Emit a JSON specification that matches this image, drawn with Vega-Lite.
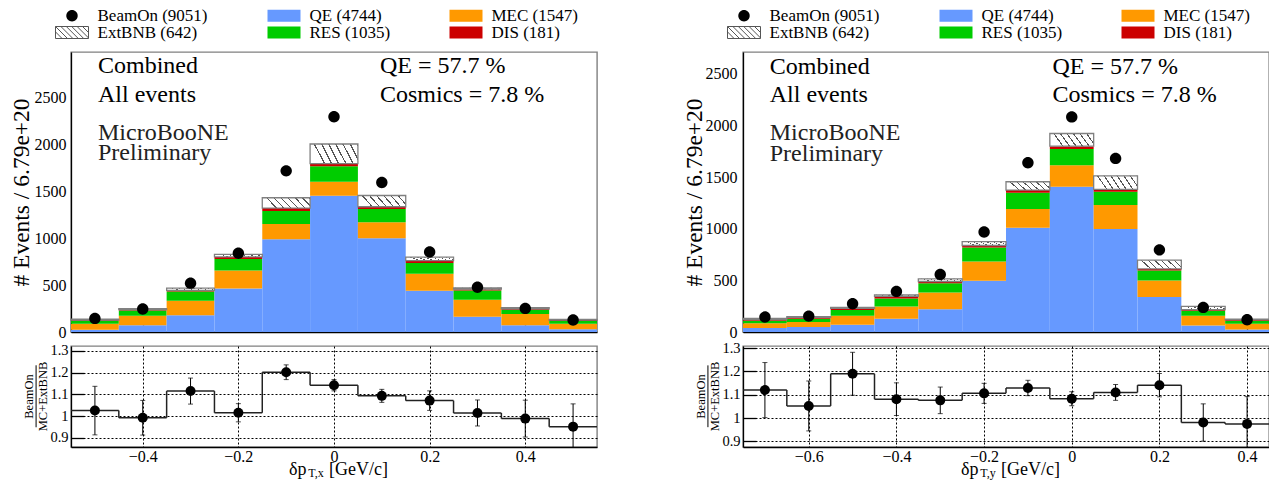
{
  "$schema": "https://vega.github.io/schema/vega-lite/v6.json",
  "padding": {"left": 8, "top": 7, "right": 3, "bottom": 4},
  "background": "white",
  "datasets": {
    "dx": [
      {"lo": -0.55, "hi": -0.45, "c": -0.5, "QE": 25, "MEC": 63, "RES": 32, "DIS": 7, "ExtBNB": 11, "BeamOn": 145, "r": 1.025, "e": 0.112},
      {"lo": -0.45, "hi": -0.35, "c": -0.4, "QE": 71, "MEC": 102, "RES": 55, "DIS": 10, "ExtBNB": 10, "BeamOn": 244, "r": 0.992, "e": 0.08},
      {"lo": -0.35, "hi": -0.25, "c": -0.3, "QE": 177, "MEC": 155, "RES": 99, "DIS": 12, "ExtBNB": 24, "BeamOn": 520, "r": 1.115, "e": 0.06},
      {"lo": -0.25, "hi": -0.15, "c": -0.2, "QE": 463, "MEC": 191, "RES": 124, "DIS": 21, "ExtBNB": 28, "BeamOn": 838, "r": 1.015, "e": 0.042},
      {"lo": -0.15, "hi": -0.05, "c": -0.1, "QE": 987, "MEC": 162, "RES": 138, "DIS": 32, "ExtBNB": 110, "BeamOn": 1715, "r": 1.202, "e": 0.034},
      {"lo": -0.05, "hi": 0.05, "c": 0.0, "QE": 1450, "MEC": 148, "RES": 166, "DIS": 29, "ExtBNB": 208, "BeamOn": 2291, "r": 1.142, "e": 0.026},
      {"lo": 0.05, "hi": 0.15, "c": 0.1, "QE": 997, "MEC": 170, "RES": 141, "DIS": 25, "ExtBNB": 120, "BeamOn": 1591, "r": 1.093, "e": 0.03},
      {"lo": 0.15, "hi": 0.25, "c": 0.2, "QE": 438, "MEC": 181, "RES": 116, "DIS": 25, "ExtBNB": 36, "BeamOn": 852, "r": 1.071, "e": 0.045},
      {"lo": 0.25, "hi": 0.35, "c": 0.3, "QE": 163, "MEC": 180, "RES": 99, "DIS": 14, "ExtBNB": 14, "BeamOn": 477, "r": 1.014, "e": 0.06},
      {"lo": 0.35, "hi": 0.45, "c": 0.4, "QE": 71, "MEC": 120, "RES": 46, "DIS": 10, "ExtBNB": 11, "BeamOn": 251, "r": 0.988, "e": 0.085},
      {"lo": 0.45, "hi": 0.55, "c": 0.5, "QE": 28, "MEC": 60, "RES": 29, "DIS": 10, "ExtBNB": 7, "BeamOn": 127, "r": 0.951, "e": 0.105}
    ],
    "dy": [
      {"lo": -0.75, "hi": -0.65, "c": -0.7, "QE": 39, "MEC": 45, "RES": 25, "DIS": 10, "ExtBNB": 13, "BeamOn": 145, "r": 1.12, "e": 0.118},
      {"lo": -0.65, "hi": -0.55, "c": -0.6, "QE": 48, "MEC": 49, "RES": 32, "DIS": 13, "ExtBNB": 6, "BeamOn": 154, "r": 1.052, "e": 0.107},
      {"lo": -0.55, "hi": -0.45, "c": -0.5, "QE": 71, "MEC": 87, "RES": 54, "DIS": 16, "ExtBNB": 10, "BeamOn": 273, "r": 1.19, "e": 0.092},
      {"lo": -0.45, "hi": -0.35, "c": -0.4, "QE": 129, "MEC": 119, "RES": 77, "DIS": 19, "ExtBNB": 16, "BeamOn": 393, "r": 1.081, "e": 0.07},
      {"lo": -0.35, "hi": -0.25, "c": -0.3, "QE": 219, "MEC": 164, "RES": 90, "DIS": 16, "ExtBNB": 26, "BeamOn": 557, "r": 1.076, "e": 0.057},
      {"lo": -0.25, "hi": -0.15, "c": -0.2, "QE": 495, "MEC": 187, "RES": 135, "DIS": 20, "ExtBNB": 38, "BeamOn": 968, "r": 1.106, "e": 0.043},
      {"lo": -0.15, "hi": -0.05, "c": -0.1, "QE": 1010, "MEC": 180, "RES": 158, "DIS": 26, "ExtBNB": 80, "BeamOn": 1638, "r": 1.129, "e": 0.033},
      {"lo": -0.05, "hi": 0.05, "c": 0.0, "QE": 1406, "MEC": 209, "RES": 155, "DIS": 29, "ExtBNB": 122, "BeamOn": 2082, "r": 1.083, "e": 0.03},
      {"lo": 0.05, "hi": 0.15, "c": 0.1, "QE": 997, "MEC": 232, "RES": 129, "DIS": 22, "ExtBNB": 132, "BeamOn": 1680, "r": 1.11, "e": 0.034},
      {"lo": 0.15, "hi": 0.25, "c": 0.2, "QE": 338, "MEC": 161, "RES": 96, "DIS": 16, "ExtBNB": 84, "BeamOn": 795, "r": 1.141, "e": 0.05},
      {"lo": 0.25, "hi": 0.35, "c": 0.3, "QE": 64, "MEC": 94, "RES": 48, "DIS": 10, "ExtBNB": 32, "BeamOn": 238, "r": 0.981, "e": 0.08},
      {"lo": 0.35, "hi": 0.45, "c": 0.4, "QE": 23, "MEC": 57, "RES": 29, "DIS": 10, "ExtBNB": 6, "BeamOn": 119, "r": 0.975, "e": 0.117}
    ]
  },
  "config": {
    "font": "Liberation Serif",
    "view": {"stroke": "#808080", "strokeWidth": 1.4},
    "axis": {"domainColor": "black", "domainWidth": 1.3, "labelColor": "black", "titleColor": "black", "titleFontWeight": "normal", "labelFont": "Liberation Serif", "titleFont": "Liberation Serif", "labelOverlap": false},
    "legend": {"orient": "none", "legendX": -7.5, "legendY": -45, "columns": 3, "gridAlign": "each", "columnPadding": 57, "rowPadding": -1, "labelOffset": 17, "symbolSize": 144, "labelFont": "Liberation Serif", "labelFontSize": 17, "labelColor": "black", "padding": 0},
    "text": {"font": "Liberation Serif", "color": "black"}
  },
  "hconcat": [
    {
      "vconcat": [
        {
          "width": 526, "height": 280,
          "data": {"name": "dx"},
          "layer": [
            {
              "transform": [
                {"fold": ["QE", "MEC", "RES", "DIS", "ExtBNB"], "as": ["comp", "n"]},
                {"stack": "n", "groupby": ["c"], "as": ["y0", "y1"]}
              ],
              "layer": [
                {
                  "transform": [{"filter": "datum.comp != 'ExtBNB'"}],
                  "mark": {"type": "rect"},
                  "encoding": {
                    "x": {"field": "lo", "type": "quantitative", "scale": {"domain": [-0.55, 0.55], "nice": false, "zero": false},
                      "axis": {"values": [-0.4, -0.2, 0, 0.2, 0.4], "tickCount": 20, "labels": false, "ticks": true, "tickSize": -7, "tickColor": "black", "tickWidth": 1.3, "grid": false, "title": null}},
                    "x2": {"field": "hi"},
                    "y": {"field": "y0", "type": "quantitative", "scale": {"domain": [0, 2980], "nice": false, "zero": false},
                      "axis": {"values": [0, 500, 1000, 1500, 2000, 2500], "tickCount": 20, "format": "d", "labelFontSize": 16, "labelPadding": 5, "ticks": false, "grid": false, "labelOverlap": false,
                        "title": "# Events / 6.79e+20", "titleFontSize": 23.5, "titleX": -49.5, "titleY": 140, "titleAngle": -90, "titleBaseline": "middle", "titleAlign": "center"}},
                    "y2": {"field": "y1"},
                    "color": {"field": "comp", "type": "nominal",
                      "scale": {"domain": ["BeamOn", "ExtBNB", "QE", "RES", "MEC", "DIS"], "range": ["black", "white", "#6699ff", "#00cc00", "#ff9900", "#cc0000"]},
                      "legend": {"title": null,
                        "labelExpr": "datum.label == 'BeamOn' ? 'BeamOn (9051)' : datum.label == 'QE' ? 'QE (4744)' : datum.label == 'MEC' ? 'MEC (1547)' : datum.label == 'ExtBNB' ? 'ExtBNB (642)' : datum.label == 'RES' ? 'RES (1035)' : 'DIS (181)'",
                        "encode": {"symbols": {"update": {"stroke": [{"test": "datum.value == 'ExtBNB'", "value": "#555555"}, {"value": "transparent"}], "strokeWidth": {"value": 1}, "opacity": {"value": 1}}}}}}
                  }
                },
                {
                  "transform": [{"filter": "datum.comp == 'ExtBNB'"}],
                  "mark": {"type": "rect", "stroke": "#808080", "strokeWidth": 1.3,
                    "fill": {"gradient": "linear", "x1": 0, "y1": 0.21, "x2": 1, "y2": 0, "stops": [
                      {"offset": 0, "color": "white"}, {"offset": 0.1143, "color": "white"}, {"offset": 0.1143, "color": "#555555"}, {"offset": 0.1429, "color": "#555555"},
                      {"offset": 0.1429, "color": "white"}, {"offset": 0.2571, "color": "white"}, {"offset": 0.2571, "color": "#555555"}, {"offset": 0.2857, "color": "#555555"},
                      {"offset": 0.2857, "color": "white"}, {"offset": 0.4, "color": "white"}, {"offset": 0.4, "color": "#555555"}, {"offset": 0.4286, "color": "#555555"},
                      {"offset": 0.4286, "color": "white"}, {"offset": 0.5429, "color": "white"}, {"offset": 0.5429, "color": "#555555"}, {"offset": 0.5714, "color": "#555555"},
                      {"offset": 0.5714, "color": "white"}, {"offset": 0.6857, "color": "white"}, {"offset": 0.6857, "color": "#555555"}, {"offset": 0.7143, "color": "#555555"},
                      {"offset": 0.7143, "color": "white"}, {"offset": 0.8286, "color": "white"}, {"offset": 0.8286, "color": "#555555"}, {"offset": 0.8571, "color": "#555555"},
                      {"offset": 0.8571, "color": "white"}, {"offset": 0.9714, "color": "white"}, {"offset": 0.9714, "color": "#555555"}, {"offset": 1, "color": "#555555"}]}},
                  "encoding": {
                    "x": {"field": "lo", "type": "quantitative"},
                    "x2": {"field": "hi"},
                    "y": {"field": "y0", "type": "quantitative"},
                    "y2": {"field": "y1"}
                  }
                }
              ]
            },
            {
              "transform": [{"fold": ["BeamOn"], "as": ["comp", "n"]}],
              "mark": {"type": "point", "filled": true, "opacity": 1, "size": 144},
              "encoding": {
                "x": {"field": "c", "type": "quantitative"},
                "y": {"field": "n", "type": "quantitative"},
                "color": {"field": "comp", "type": "nominal",
                  "scale": {"domain": ["BeamOn", "ExtBNB", "QE", "RES", "MEC", "DIS"], "range": ["black", "white", "#6699ff", "#00cc00", "#ff9900", "#cc0000"]},
                  "legend": {"title": null,
                    "labelExpr": "datum.label == 'BeamOn' ? 'BeamOn (9051)' : datum.label == 'QE' ? 'QE (4744)' : datum.label == 'MEC' ? 'MEC (1547)' : datum.label == 'ExtBNB' ? 'ExtBNB (642)' : datum.label == 'RES' ? 'RES (1035)' : 'DIS (181)'",
                    "encode": {"symbols": {"update": {"stroke": [{"test": "datum.value == 'ExtBNB'", "value": "#555555"}, {"value": "transparent"}], "strokeWidth": {"value": 1}, "opacity": {"value": 1}}}}}},
                "shape": {"field": "comp", "type": "nominal",
                  "scale": {"domain": ["BeamOn", "ExtBNB", "QE", "RES", "MEC", "DIS"], "range": [
                    "M-0.95,0A0.95,0.95 0 1,0 0.95,0A0.95,0.95 0 1,0 -0.95,0Z",
                    "M-2.75,-1H2.75V1H-2.75Z M-2.75,-0.1L-1.65,1 M-2.75,-1L-0.75,1 M-1.85,-1L0.15,1 M-0.95,-1L1.05,1 M-0.05,-1L1.95,1 M0.85,-1L2.75,0.9 M1.75,-1L2.75,0",
                    "M-2.75,-1H2.75V1H-2.75Z",
                    "M-2.75,-1H2.75V1H-2.75Z",
                    "M-2.75,-1H2.75V1H-2.75Z",
                    "M-2.75,-1H2.75V1H-2.75Z"]},
                  "legend": {"title": null,
                    "labelExpr": "datum.label == 'BeamOn' ? 'BeamOn (9051)' : datum.label == 'QE' ? 'QE (4744)' : datum.label == 'MEC' ? 'MEC (1547)' : datum.label == 'ExtBNB' ? 'ExtBNB (642)' : datum.label == 'RES' ? 'RES (1035)' : 'DIS (181)'",
                    "encode": {"symbols": {"update": {"stroke": [{"test": "datum.value == 'ExtBNB'", "value": "#555555"}, {"value": "transparent"}], "strokeWidth": {"value": 1}, "opacity": {"value": 1}}}}}}
              }
            },
            {
              "data": {"values": [{}]},
              "mark": {"type": "text", "align": "left", "baseline": "alphabetic", "fontSize": 24, "lineHeight": 28.4},
              "encoding": {"x": {"datum": -0.4935}, "y": {"datum": 2755}, "text": {"value": ["Combined", "All events"]}}
            },
            {
              "data": {"values": [{}]},
              "mark": {"type": "text", "align": "left", "baseline": "alphabetic", "fontSize": 24, "lineHeight": 20.7, "color": "#222222"},
              "encoding": {"x": {"datum": -0.4935}, "y": {"datum": 2046}, "text": {"value": ["MicroBooNE", "Preliminary"]}}
            },
            {
              "data": {"values": [{}]},
              "mark": {"type": "text", "align": "left", "baseline": "alphabetic", "fontSize": 24, "lineHeight": 28.4},
              "encoding": {"x": {"datum": 0.0962}, "y": {"datum": 2755}, "text": {"value": ["QE = 57.7 %", "Cosmics = 7.8 %"]}}
            }
          ]
        },
        {
          "width": 526, "height": 101,
          "data": {"name": "dx"},
          "layer": [
            {
              "mark": {"type": "rule", "color": "#222222", "strokeWidth": 1.5},
              "encoding": {
                "x": {"field": "lo", "type": "quantitative", "scale": {"domain": [-0.55, 0.55], "nice": false, "zero": false},
                  "axis": {"values": [-0.4, -0.2, 0, 0.2, 0.4], "tickCount": 20, "format": "~g", "grid": true, "gridDash": [2, 2], "gridColor": "black", "gridOpacity": 1, "ticks": false, "labelFontSize": 16, "labelPadding": 1, "labelOverlap": false,
                    "title": "δp\u00a0\u00a0\u00a0\u00a0\u00a0[GeV/c]", "titleFontSize": 18, "titleX": 267, "titleY": 27, "titleBaseline": "alphabetic", "titleAlign": "center"}},
                "x2": {"field": "hi"},
                "y": {"field": "r", "type": "quantitative", "scale": {"domain": [0.857, 1.323], "nice": false, "zero": false},
                  "axis": {"values": [0.9, 1, 1.1, 1.2, 1.3], "tickCount": 20, "format": "~g", "grid": true, "gridDash": [2, 2], "gridColor": "black", "gridOpacity": 1, "ticks": true, "tickSize": -13, "tickColor": "black", "tickWidth": 1.3, "labelPadding": 16, "labelFontSize": 14.5, "labelOverlap": false, "labelBound": false, "title": null}}
              }
            },
            {
              "transform": [
                {"window": [{"op": "lag", "field": "r", "as": "rp"}], "sort": [{"field": "lo"}]},
                {"filter": "datum.rp != null"}
              ],
              "mark": {"type": "rule", "color": "#222222", "strokeWidth": 1.5},
              "encoding": {"x": {"field": "lo", "type": "quantitative"}, "y": {"field": "r", "type": "quantitative", "title": null}, "y2": {"field": "rp"}}
            },
            {
              "mark": {"type": "errorbar", "ticks": {"size": 5, "color": "black"}, "color": "black", "clip": true},
              "encoding": {"x": {"field": "c", "type": "quantitative"}, "y": {"field": "r", "type": "quantitative", "title": null}, "yError": {"field": "e"}}
            },
            {
              "mark": {"type": "circle", "color": "black", "size": 100, "opacity": 1},
              "encoding": {"x": {"field": "c", "type": "quantitative"}, "y": {"field": "r", "type": "quantitative", "title": null}}
            },
            {
              "data": {"values": [{}]},
              "mark": {"type": "rule", "color": "black", "strokeWidth": 1},
              "encoding": {"x": {"datum": -0.623}, "y": {"datum": 1.234}, "y2": {"datum": 0.948}}
            },
            {
              "data": {"values": [{}]},
              "mark": {"type": "text", "fontSize": 12.5, "baseline": "middle", "align": "center", "angle": 270},
              "encoding": {"x": {"datum": -0.6378}, "y": {"datum": 1.09}, "text": {"value": "BeamOn"}}
            },
            {
              "data": {"values": [{}]},
              "mark": {"type": "text", "fontSize": 12.5, "baseline": "middle", "align": "center", "angle": 270},
              "encoding": {"x": {"datum": -0.6096}, "y": {"datum": 1.09}, "text": {"value": "MC+ExtBNB"}}
            },
            {
              "data": {"values": [{}]},
              "mark": {"type": "text", "fontSize": 12, "baseline": "alphabetic", "align": "center"},
              "encoding": {"x": {"datum": -0.0377}, "y": {"datum": 0.717}, "text": {"value": "T,x"}}
            }
          ]
        }
      ],
      "spacing": 14,
      "bounds": "flush",
      "resolve": {"scale": {"x": "independent", "y": "independent"}}
    },
    {
      "vconcat": [
        {
          "width": 526, "height": 280,
          "data": {"name": "dy"},
          "layer": [
            {
              "transform": [
                {"fold": ["QE", "MEC", "RES", "DIS", "ExtBNB"], "as": ["comp", "n"]},
                {"stack": "n", "groupby": ["c"], "as": ["y0", "y1"]}
              ],
              "layer": [
                {
                  "transform": [{"filter": "datum.comp != 'ExtBNB'"}],
                  "mark": {"type": "rect"},
                  "encoding": {
                    "x": {"field": "lo", "type": "quantitative", "scale": {"domain": [-0.75, 0.45], "nice": false, "zero": false},
                      "axis": {"values": [-0.6, -0.4, -0.2, 0, 0.2, 0.4], "tickCount": 20, "labels": false, "ticks": true, "tickSize": -7, "tickColor": "black", "tickWidth": 1.3, "grid": false, "title": null}},
                    "x2": {"field": "hi"},
                    "y": {"field": "y0", "type": "quantitative", "scale": {"domain": [0, 2710], "nice": false, "zero": false},
                      "axis": {"values": [0, 500, 1000, 1500, 2000, 2500], "tickCount": 20, "format": "d", "labelFontSize": 16, "labelPadding": 6, "ticks": false, "grid": false, "labelOverlap": false,
                        "title": "# Events / 6.79e+20", "titleFontSize": 23.5, "titleX": -49, "titleY": 140, "titleAngle": -90, "titleBaseline": "middle", "titleAlign": "center"}},
                    "y2": {"field": "y1"},
                    "color": {"field": "comp", "type": "nominal",
                      "scale": {"domain": ["BeamOn", "ExtBNB", "QE", "RES", "MEC", "DIS"], "range": ["black", "white", "#6699ff", "#00cc00", "#ff9900", "#cc0000"]},
                      "legend": {"title": null,
                        "labelExpr": "datum.label == 'BeamOn' ? 'BeamOn (9051)' : datum.label == 'QE' ? 'QE (4744)' : datum.label == 'MEC' ? 'MEC (1547)' : datum.label == 'ExtBNB' ? 'ExtBNB (642)' : datum.label == 'RES' ? 'RES (1035)' : 'DIS (181)'",
                        "encode": {"symbols": {"update": {"stroke": [{"test": "datum.value == 'ExtBNB'", "value": "#555555"}, {"value": "transparent"}], "strokeWidth": {"value": 1}, "opacity": {"value": 1}}}}}}
                  }
                },
                {
                  "transform": [{"filter": "datum.comp == 'ExtBNB'"}],
                  "mark": {"type": "rect", "stroke": "#808080", "strokeWidth": 1.3,
                    "fill": {"gradient": "linear", "x1": 0, "y1": 0.21, "x2": 1, "y2": 0, "stops": [
                      {"offset": 0, "color": "white"}, {"offset": 0.1143, "color": "white"}, {"offset": 0.1143, "color": "#555555"}, {"offset": 0.1429, "color": "#555555"},
                      {"offset": 0.1429, "color": "white"}, {"offset": 0.2571, "color": "white"}, {"offset": 0.2571, "color": "#555555"}, {"offset": 0.2857, "color": "#555555"},
                      {"offset": 0.2857, "color": "white"}, {"offset": 0.4, "color": "white"}, {"offset": 0.4, "color": "#555555"}, {"offset": 0.4286, "color": "#555555"},
                      {"offset": 0.4286, "color": "white"}, {"offset": 0.5429, "color": "white"}, {"offset": 0.5429, "color": "#555555"}, {"offset": 0.5714, "color": "#555555"},
                      {"offset": 0.5714, "color": "white"}, {"offset": 0.6857, "color": "white"}, {"offset": 0.6857, "color": "#555555"}, {"offset": 0.7143, "color": "#555555"},
                      {"offset": 0.7143, "color": "white"}, {"offset": 0.8286, "color": "white"}, {"offset": 0.8286, "color": "#555555"}, {"offset": 0.8571, "color": "#555555"},
                      {"offset": 0.8571, "color": "white"}, {"offset": 0.9714, "color": "white"}, {"offset": 0.9714, "color": "#555555"}, {"offset": 1, "color": "#555555"}]}},
                  "encoding": {
                    "x": {"field": "lo", "type": "quantitative"},
                    "x2": {"field": "hi"},
                    "y": {"field": "y0", "type": "quantitative"},
                    "y2": {"field": "y1"}
                  }
                }
              ]
            },
            {
              "transform": [{"fold": ["BeamOn"], "as": ["comp", "n"]}],
              "mark": {"type": "point", "filled": true, "opacity": 1, "size": 144},
              "encoding": {
                "x": {"field": "c", "type": "quantitative"},
                "y": {"field": "n", "type": "quantitative"},
                "color": {"field": "comp", "type": "nominal",
                  "scale": {"domain": ["BeamOn", "ExtBNB", "QE", "RES", "MEC", "DIS"], "range": ["black", "white", "#6699ff", "#00cc00", "#ff9900", "#cc0000"]},
                  "legend": {"title": null,
                    "labelExpr": "datum.label == 'BeamOn' ? 'BeamOn (9051)' : datum.label == 'QE' ? 'QE (4744)' : datum.label == 'MEC' ? 'MEC (1547)' : datum.label == 'ExtBNB' ? 'ExtBNB (642)' : datum.label == 'RES' ? 'RES (1035)' : 'DIS (181)'",
                    "encode": {"symbols": {"update": {"stroke": [{"test": "datum.value == 'ExtBNB'", "value": "#555555"}, {"value": "transparent"}], "strokeWidth": {"value": 1}, "opacity": {"value": 1}}}}}},
                "shape": {"field": "comp", "type": "nominal",
                  "scale": {"domain": ["BeamOn", "ExtBNB", "QE", "RES", "MEC", "DIS"], "range": [
                    "M-0.95,0A0.95,0.95 0 1,0 0.95,0A0.95,0.95 0 1,0 -0.95,0Z",
                    "M-2.75,-1H2.75V1H-2.75Z M-2.75,-0.1L-1.65,1 M-2.75,-1L-0.75,1 M-1.85,-1L0.15,1 M-0.95,-1L1.05,1 M-0.05,-1L1.95,1 M0.85,-1L2.75,0.9 M1.75,-1L2.75,0",
                    "M-2.75,-1H2.75V1H-2.75Z",
                    "M-2.75,-1H2.75V1H-2.75Z",
                    "M-2.75,-1H2.75V1H-2.75Z",
                    "M-2.75,-1H2.75V1H-2.75Z"]},
                  "legend": {"title": null,
                    "labelExpr": "datum.label == 'BeamOn' ? 'BeamOn (9051)' : datum.label == 'QE' ? 'QE (4744)' : datum.label == 'MEC' ? 'MEC (1547)' : datum.label == 'ExtBNB' ? 'ExtBNB (642)' : datum.label == 'RES' ? 'RES (1035)' : 'DIS (181)'",
                    "encode": {"symbols": {"update": {"stroke": [{"test": "datum.value == 'ExtBNB'", "value": "#555555"}, {"value": "transparent"}], "strokeWidth": {"value": 1}, "opacity": {"value": 1}}}}}}
              }
            },
            {
              "data": {"values": [{}]},
              "mark": {"type": "text", "align": "left", "baseline": "alphabetic", "fontSize": 24, "lineHeight": 28.4},
              "encoding": {"x": {"datum": -0.689}, "y": {"datum": 2500}, "text": {"value": ["Combined", "All events"]}}
            },
            {
              "data": {"values": [{}]},
              "mark": {"type": "text", "align": "left", "baseline": "alphabetic", "fontSize": 24, "lineHeight": 20.7, "color": "#222222"},
              "encoding": {"x": {"datum": -0.689}, "y": {"datum": 1856}, "text": {"value": ["MicroBooNE", "Preliminary"]}}
            },
            {
              "data": {"values": [{}]},
              "mark": {"type": "text", "align": "left", "baseline": "alphabetic", "fontSize": 24, "lineHeight": 28.4},
              "encoding": {"x": {"datum": -0.044}, "y": {"datum": 2500}, "text": {"value": ["QE = 57.7 %", "Cosmics = 7.8 %"]}}
            }
          ]
        },
        {
          "width": 526, "height": 101,
          "data": {"name": "dy"},
          "layer": [
            {
              "mark": {"type": "rule", "color": "#222222", "strokeWidth": 1.5},
              "encoding": {
                "x": {"field": "lo", "type": "quantitative", "scale": {"domain": [-0.75, 0.45], "nice": false, "zero": false},
                  "axis": {"values": [-0.6, -0.4, -0.2, 0, 0.2, 0.4], "tickCount": 20, "format": "~g", "grid": true, "gridDash": [2, 2], "gridColor": "black", "gridOpacity": 1, "ticks": false, "labelFontSize": 16, "labelPadding": 1, "labelOverlap": false,
                    "title": "δp\u00a0\u00a0\u00a0\u00a0\u00a0[GeV/c]", "titleFontSize": 18, "titleX": 267, "titleY": 27, "titleBaseline": "alphabetic", "titleAlign": "center"}},
                "x2": {"field": "hi"},
                "y": {"field": "r", "type": "quantitative", "scale": {"domain": [0.876, 1.309], "nice": false, "zero": false},
                  "axis": {"values": [0.9, 1, 1.1, 1.2, 1.3], "tickCount": 20, "format": "~g", "grid": true, "gridDash": [2, 2], "gridColor": "black", "gridOpacity": 1, "ticks": true, "tickSize": -13, "tickColor": "black", "tickWidth": 1.3, "labelPadding": 16, "labelFontSize": 14.5, "labelOverlap": false, "labelBound": false, "title": null}}
              }
            },
            {
              "transform": [
                {"window": [{"op": "lag", "field": "r", "as": "rp"}], "sort": [{"field": "lo"}]},
                {"filter": "datum.rp != null"}
              ],
              "mark": {"type": "rule", "color": "#222222", "strokeWidth": 1.5},
              "encoding": {"x": {"field": "lo", "type": "quantitative"}, "y": {"field": "r", "type": "quantitative", "title": null}, "y2": {"field": "rp"}}
            },
            {
              "mark": {"type": "errorbar", "ticks": {"size": 5, "color": "black"}, "color": "black", "clip": true},
              "encoding": {"x": {"field": "c", "type": "quantitative"}, "y": {"field": "r", "type": "quantitative", "title": null}, "yError": {"field": "e"}}
            },
            {
              "mark": {"type": "circle", "color": "black", "size": 100, "opacity": 1},
              "encoding": {"x": {"field": "c", "type": "quantitative"}, "y": {"field": "r", "type": "quantitative", "title": null}}
            },
            {
              "data": {"values": [{}]},
              "mark": {"type": "rule", "color": "black", "strokeWidth": 1},
              "encoding": {"x": {"datum": -0.83}, "y": {"datum": 1.226}, "y2": {"datum": 0.961}}
            },
            {
              "data": {"values": [{}]},
              "mark": {"type": "text", "fontSize": 12.5, "baseline": "middle", "align": "center", "angle": 270},
              "encoding": {"x": {"datum": -0.8458}, "y": {"datum": 1.0925}, "text": {"value": "BeamOn"}}
            },
            {
              "data": {"values": [{}]},
              "mark": {"type": "text", "fontSize": 12.5, "baseline": "middle", "align": "center", "angle": 270},
              "encoding": {"x": {"datum": -0.815}, "y": {"datum": 1.0925}, "text": {"value": "MC+ExtBNB"}}
            },
            {
              "data": {"values": [{}]},
              "mark": {"type": "text", "fontSize": 12, "baseline": "alphabetic", "align": "center"},
              "encoding": {"x": {"datum": -0.191}, "y": {"datum": 0.746}, "text": {"value": "T,y"}}
            }
          ]
        }
      ],
      "spacing": 14,
      "bounds": "flush",
      "resolve": {"scale": {"x": "independent", "y": "independent"}}
    }
  ],
  "spacing": 672,
  "bounds": "flush",
  "resolve": {"scale": {"color": "independent", "shape": "independent", "x": "independent", "y": "independent"}, "legend": {"color": "independent", "shape": "independent"}}
}
